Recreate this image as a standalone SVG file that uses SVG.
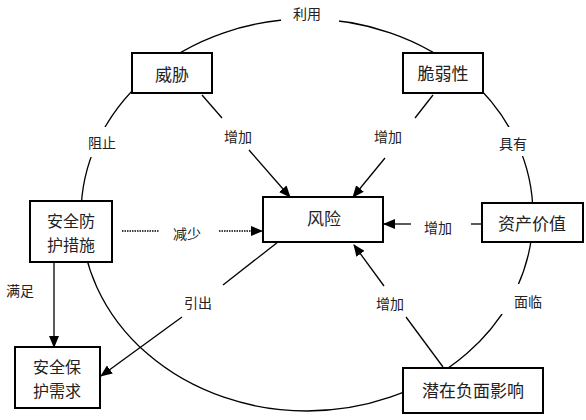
<svg xmlns="http://www.w3.org/2000/svg" width="586" height="420" viewBox="0 0 586 420">
<defs>
<marker id="ah" markerUnits="userSpaceOnUse" markerWidth="12" markerHeight="10" refX="11" refY="5" orient="auto">
<path d="M0,0 L12,5 L0,10 z" fill="#000"/>
</marker>
<style>
.box{fill:#fff;stroke:#000;stroke-width:2}
.t{font-family:"Noto Sans CJK SC","Noto Sans",sans-serif;font-size:17px;fill:#222;text-anchor:middle;dominant-baseline:central}
.t2{font-family:"Noto Sans CJK SC","Noto Sans",sans-serif;font-size:16px;fill:#222;text-anchor:middle;dominant-baseline:central}
.l{font-family:"Noto Sans CJK SC","Noto Sans",sans-serif;font-size:14px;fill:#222;text-anchor:middle;dominant-baseline:central}
.c{fill:none;stroke:#000;stroke-width:1.3}
.a{stroke:#000;stroke-width:1.3;fill:none}
.gap{fill:#fff;stroke:none}
</style>
</defs>
<rect width="586" height="420" fill="#fff"/>
<g id="connectors">
<ellipse class="c" cx="307" cy="215" rx="226" ry="196"/>
<rect class="gap" x="281" y="8" width="58" height="20"/>
<rect class="gap" x="84" y="127" width="38" height="30"/>
<rect class="gap" x="495" y="127" width="38" height="29"/>
<rect class="gap" x="497" y="284" width="48" height="30"/>
<line class="a" x1="202" y1="95" x2="222" y2="118"/>
<line class="a" x1="249" y1="150" x2="290" y2="197" marker-end="url(#ah)"/>
<line class="a" x1="433" y1="95" x2="415" y2="118"/>
<line class="a" x1="385" y1="158" x2="353" y2="197" marker-end="url(#ah)"/>
<line class="a" x1="471" y1="224" x2="482" y2="224" stroke-width="2"/>
<line class="a" x1="411" y1="224" x2="384" y2="224" stroke-width="2" marker-end="url(#ah)"/>
<line class="a" x1="443" y1="367" x2="406" y2="317"/>
<line class="a" x1="384" y1="286" x2="354" y2="245" marker-end="url(#ah)"/>
<line class="a" x1="278" y1="242" x2="223" y2="285"/>
<line class="a" x1="182" y1="317" x2="101" y2="376" marker-end="url(#ah)"/>
<line class="a" x1="122" y1="231" x2="159" y2="231" stroke-width="2.5" stroke-dasharray="1.5 1"/>
<line class="a" x1="219" y1="231" x2="262" y2="231" stroke-width="2.5" stroke-dasharray="1.5 1" marker-end="url(#ah)"/>
<line class="a" x1="54" y1="262" x2="54" y2="347" marker-end="url(#ah)"/>
<text class="l" x="307" y="13">利用</text>
<text class="l" x="102" y="142">阻止</text>
<text class="l" x="238" y="136">增加</text>
<text class="l" x="388" y="136">增加</text>
<text class="l" x="513" y="143">具有</text>
<text class="l" x="187" y="233">减少</text>
<text class="l" x="438" y="227">增加</text>
<text class="l" x="20" y="290">满足</text>
<text class="l" x="198" y="302">引出</text>
<text class="l" x="390" y="303">增加</text>
<text class="l" x="528" y="301">面临</text>
</g>
<g id="threat">
<rect class="box" x="132" y="53" width="80" height="40"/>
<text class="t" x="172" y="73">威胁</text>
</g>
<g id="vulnerability">
<rect class="box" x="403" y="53" width="80" height="40"/>
<text class="t" x="443" y="72">脆弱性</text>
</g>
<g id="risk">
<rect class="box" x="263" y="197" width="120" height="45"/>
<text class="t" x="324" y="217">风险</text>
</g>
<g id="asset">
<rect class="box" x="482" y="203" width="101" height="39"/>
<text class="t" x="532" y="222">资产价值</text>
</g>
<g id="safeguard">
<rect class="box" x="30" y="201" width="82" height="61"/>
<text class="t2" x="71" y="220">安全防</text>
<text class="t2" x="71" y="244">护措施</text>
</g>
<g id="requirement">
<rect class="box" x="15" y="347" width="85" height="61"/>
<text class="t2" x="57" y="366">安全保</text>
<text class="t2" x="57" y="390">护需求</text>
</g>
<g id="impact">
<rect class="box" x="403" y="368" width="140" height="45"/>
<text class="t" x="473" y="389">潜在负面影响</text>
</g>
</svg>
